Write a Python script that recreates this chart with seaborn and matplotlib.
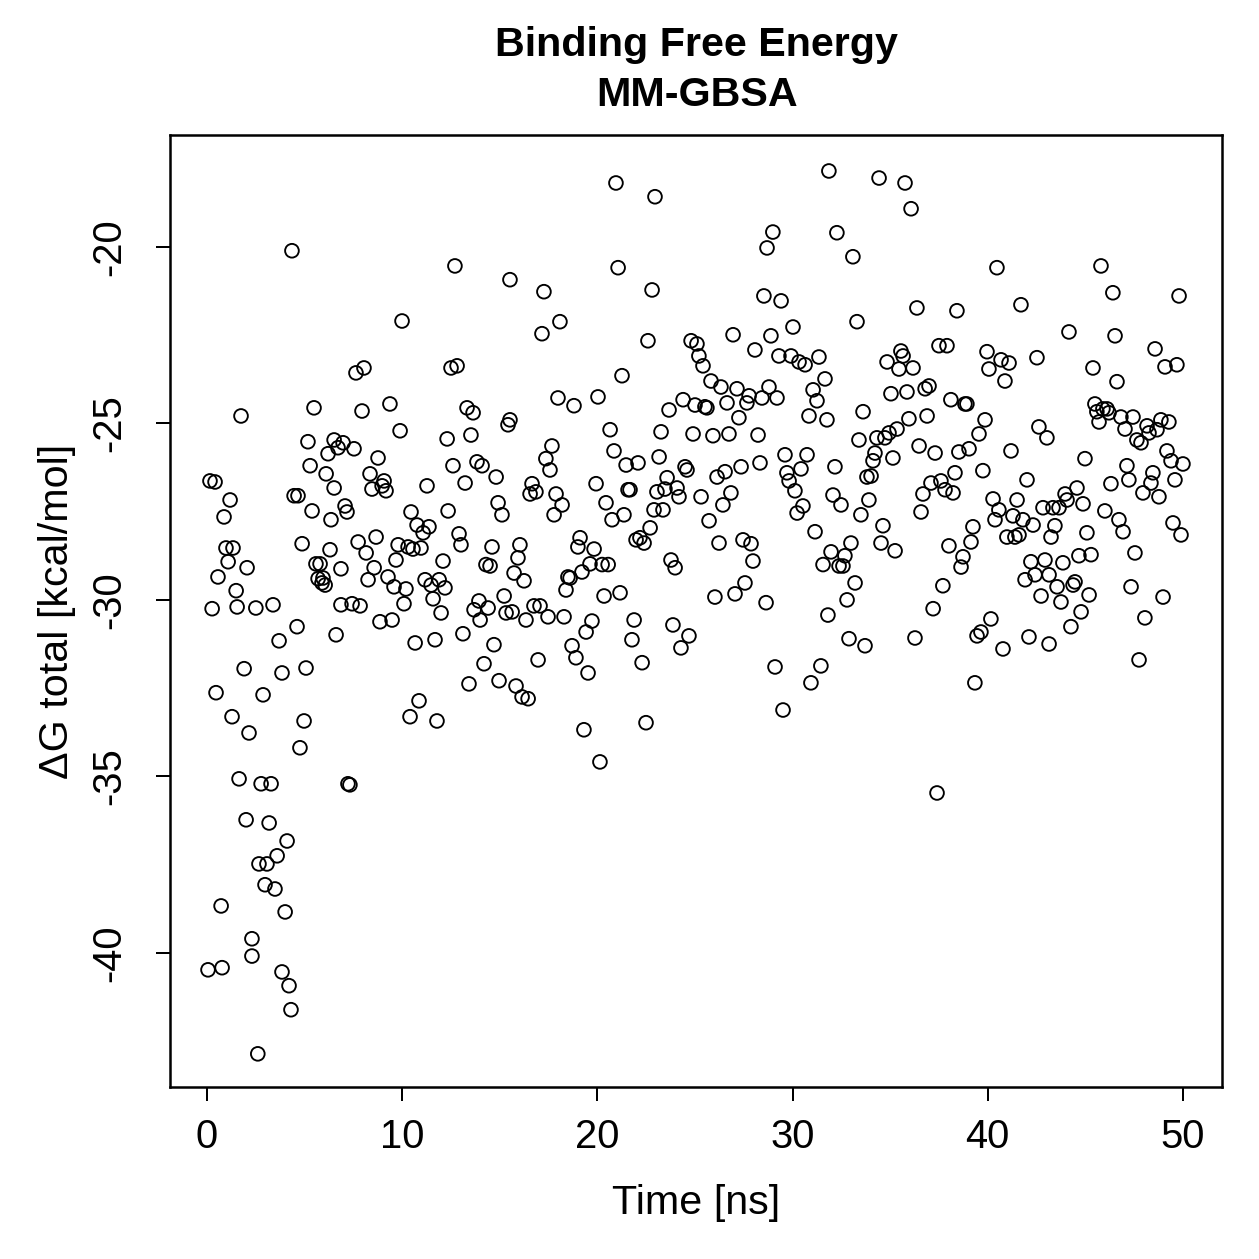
import numpy as np
import pandas as pd
import matplotlib
matplotlib.use("Agg")
import matplotlib.pyplot as plt
import seaborn as sns

# === data: MM-GBSA binding free energy per frame ===
time_ns = [
    0.05, 0.15, 0.26, 0.41, 0.46, 0.56, 0.72, 0.77, 0.87, 0.97, 1.08, 1.18, 1.28, 1.33, 1.49, 1.54,
    1.64, 1.74, 1.9, 2.0, 2.05, 2.15, 2.3, 2.3, 2.5, 2.6, 2.66, 2.77, 2.87, 2.97, 3.07, 3.18,
    3.28, 3.38, 3.48, 3.59, 3.69, 3.84, 3.84, 4.0, 4.1, 4.2, 4.3, 4.35, 4.46, 4.61, 4.66, 4.76,
    4.87, 4.97, 5.07, 5.17, 5.28, 5.38, 5.48, 5.58, 5.69, 5.79, 5.89, 5.94, 6.05, 6.1, 6.2, 6.3,
    6.35, 6.51, 6.51, 6.61, 6.71, 6.86, 6.86, 6.97, 7.07, 7.17, 7.22, 7.32, 7.43, 7.53, 7.63, 7.74,
    7.84, 7.94, 8.04, 8.15, 8.25, 8.35, 8.45, 8.56, 8.66, 8.76, 8.86, 8.97, 9.07, 9.17, 9.27, 9.37,
    9.48, 9.58, 9.68, 9.79, 9.89, 9.99, 10.09, 10.19, 10.3, 10.4, 10.45, 10.55, 10.66, 10.76, 10.86, 10.96,
    11.07, 11.17, 11.27, 11.37, 11.48, 11.58, 11.68, 11.78, 11.89, 11.99, 12.09, 12.19, 12.3, 12.35, 12.5, 12.6,
    12.7, 12.81, 12.91, 13.01, 13.11, 13.22, 13.32, 13.42, 13.52, 13.63, 13.68, 13.83, 13.93, 13.99, 14.09, 14.19,
    14.29, 14.4, 14.5, 14.6, 14.7, 14.81, 14.91, 14.96, 15.11, 15.22, 15.32, 15.42, 15.52, 15.52, 15.63, 15.73,
    15.83, 15.93, 16.03, 16.14, 16.24, 16.34, 16.45, 16.55, 16.65, 16.75, 16.85, 16.96, 17.06, 17.16, 17.26, 17.36,
    17.47, 17.57, 17.67, 17.78, 17.88, 17.98, 18.08, 18.19, 18.29, 18.39, 18.49, 18.6, 18.7, 18.8, 18.9, 19.0,
    19.11, 19.21, 19.31, 19.42, 19.52, 19.62, 19.72, 19.83, 19.93, 20.03, 20.13, 20.24, 20.34, 20.44, 20.55, 20.65,
    20.75, 20.85, 20.95, 21.06, 21.16, 21.26, 21.36, 21.47, 21.57, 21.67, 21.77, 21.88, 21.98, 22.08, 22.18, 22.29,
    22.39, 22.49, 22.59, 22.7, 22.8, 22.9, 22.95, 23.05, 23.16, 23.26, 23.36, 23.46, 23.57, 23.67, 23.77, 23.87,
    23.98, 24.08, 24.18, 24.28, 24.39, 24.49, 24.59, 24.69, 24.8, 24.9, 25.0, 25.1, 25.2, 25.31, 25.41, 25.51,
    25.61, 25.72, 25.82, 25.92, 26.02, 26.13, 26.23, 26.33, 26.43, 26.54, 26.64, 26.74, 26.84, 26.95, 27.05, 27.15,
    27.25, 27.36, 27.46, 27.56, 27.66, 27.77, 27.87, 27.97, 28.07, 28.23, 28.33, 28.43, 28.53, 28.64, 28.69, 28.79,
    28.89, 28.99, 29.1, 29.2, 29.3, 29.41, 29.51, 29.61, 29.71, 29.82, 29.92, 30.02, 30.12, 30.23, 30.33, 30.43,
    30.53, 30.64, 30.74, 30.84, 30.94, 31.05, 31.15, 31.25, 31.35, 31.45, 31.56, 31.66, 31.76, 31.81, 31.86, 31.97,
    32.07, 32.17, 32.27, 32.38, 32.48, 32.58, 32.68, 32.79, 32.89, 32.99, 33.09, 33.2, 33.3, 33.4, 33.5, 33.61,
    33.71, 33.81, 33.91, 34.02, 34.12, 34.22, 34.32, 34.43, 34.53, 34.63, 34.73, 34.84, 34.94, 35.04, 35.14, 35.25,
    35.35, 35.45, 35.55, 35.66, 35.76, 35.86, 35.96, 36.07, 36.17, 36.27, 36.37, 36.48, 36.58, 36.68, 36.79, 36.89,
    36.99, 37.09, 37.2, 37.3, 37.4, 37.5, 37.6, 37.7, 37.81, 37.91, 38.01, 38.11, 38.22, 38.32, 38.42, 38.52,
    38.63, 38.73, 38.83, 38.93, 39.04, 39.14, 39.24, 39.34, 39.45, 39.55, 39.65, 39.75, 39.86, 39.96, 40.06, 40.16,
    40.27, 40.37, 40.47, 40.57, 40.68, 40.78, 40.88, 40.98, 41.09, 41.19, 41.29, 41.39, 41.5, 41.6, 41.7, 41.8,
    41.91, 42.01, 42.11, 42.21, 42.32, 42.42, 42.52, 42.62, 42.73, 42.83, 42.93, 43.03, 43.14, 43.14, 43.24, 43.34,
    43.44, 43.55, 43.65, 43.75, 43.85, 43.96, 44.06, 44.16, 44.26, 44.37, 44.47, 44.57, 44.67, 44.78, 44.88, 44.98,
    45.08, 45.19, 45.29, 45.39, 45.49, 45.59, 45.7, 45.8, 45.9, 46.0, 46.11, 46.21, 46.31, 46.41, 46.52, 46.62,
    46.72, 46.82, 46.93, 47.03, 47.13, 47.23, 47.34, 47.44, 47.54, 47.64, 47.75, 47.85, 47.95, 48.05, 48.16, 48.26,
    48.36, 48.46, 48.57, 48.67, 48.77, 48.87, 48.98, 49.08, 49.18, 49.28, 49.39, 49.49, 49.59, 49.69, 49.8, 49.9,
    50.0,
]

delta_g = [
    -40.48, -26.63, -30.25, -26.66, -32.63, -29.35, -38.67, -40.42, -27.65, -28.53, -28.92, -27.17, -33.31, -28.53, -29.74, -30.2,
    -35.07, -24.79, -31.95, -36.23, -29.09, -33.77, -39.6, -40.09, -30.23, -42.86, -37.48, -35.21, -32.69, -38.07, -37.48, -36.32,
    -35.21, -30.14, -38.19, -37.25, -31.16, -32.07, -40.54, -38.84, -36.83, -40.93, -41.61, -20.11, -27.05, -30.76, -27.05, -34.19,
    -28.41, -33.43, -31.93, -25.52, -26.2, -27.48, -24.56, -28.98, -29.4, -28.98, -29.52, -29.38, -29.58, -26.43, -25.86, -28.58,
    -27.73, -25.47, -26.83, -30.99, -25.69, -29.12, -30.14, -25.55, -27.34, -27.51, -35.21, -35.24, -30.11, -25.72, -23.57, -28.36,
    -30.17, -24.65, -23.43, -28.67, -29.43, -26.43, -26.86, -29.09, -28.22, -25.98, -30.62, -26.77, -26.63, -26.91, -29.35, -24.45,
    -30.57, -29.63, -28.87, -28.44, -25.21, -22.1, -30.11, -29.69, -28.5, -33.31, -27.51, -28.56, -31.22, -27.88, -32.86, -28.53,
    -28.1, -29.43, -26.77, -27.93, -29.58, -29.97, -31.13, -33.43, -29.43, -30.37, -28.9, -29.66, -25.44, -27.48, -23.43, -26.2,
    -20.54, -23.37, -28.13, -28.44, -30.96, -26.69, -24.56, -32.38, -25.33, -24.7, -30.28, -26.09, -30.03, -30.57, -26.2, -31.81,
    -29.0, -30.23, -29.04, -28.5, -31.27, -26.52, -27.25, -32.29, -27.59, -29.89, -30.37, -25.04, -20.93, -24.9, -30.34, -29.24,
    -32.44, -28.81, -28.44, -32.75, -29.46, -30.57, -32.8, -27.0, -26.71, -30.17, -26.94, -31.7, -30.17, -22.46, -21.27, -26.0,
    -30.48, -26.32, -25.64, -27.59, -27.0, -24.28, -22.12, -27.31, -30.48, -29.72, -29.35, -29.38, -31.3, -24.5, -31.64, -28.5,
    -28.24, -29.21, -33.68, -30.91, -32.07, -28.98, -30.6, -28.56, -26.71, -24.25, -34.59, -29.0, -29.89, -27.25, -29.0, -25.18,
    -27.73, -25.78, -18.19, -20.59, -29.8, -23.65, -27.59, -26.18, -26.88, -26.88, -31.13, -30.57, -28.3, -26.12, -28.24, -31.78,
    -28.39, -33.48, -22.66, -27.96, -21.22, -27.45, -18.58, -26.94, -25.95, -25.24, -27.45, -26.86, -26.54, -24.62, -28.87, -30.71,
    -29.09, -26.83, -27.08, -31.36, -24.33, -26.23, -26.32, -31.02, -22.66, -25.3, -24.48, -22.75, -23.09, -27.08, -23.37, -24.53,
    -24.56, -27.76, -23.8, -25.35, -29.92, -26.52, -28.39, -23.97, -27.31, -26.37, -24.42, -25.3, -26.97, -22.49, -29.83, -24.02,
    -24.84, -26.23, -28.3, -29.52, -24.42, -24.22, -28.41, -28.9, -22.92, -25.33, -26.12, -24.28, -21.39, -30.08, -20.03, -23.97,
    -22.52, -19.58, -31.9, -24.28, -23.09, -21.53, -33.12, -25.89, -26.4, -26.63, -23.09, -22.27, -26.91, -27.54, -23.26, -26.29,
    -27.34, -23.34, -25.89, -24.79, -32.35, -24.05, -28.07, -24.36, -23.12, -31.87, -29.0, -23.74, -24.9, -30.43, -17.85, -28.64,
    -27.03, -26.23, -19.6, -29.04, -27.31, -29.04, -28.75, -30.0, -31.1, -28.39, -20.28, -29.52, -22.12, -25.47, -27.59, -24.67,
    -31.3, -26.52, -27.17, -26.49, -26.06, -25.84, -25.41, -18.05, -28.39, -27.9, -25.41, -23.26, -25.27, -24.16, -25.98, -28.61,
    -25.16, -23.46, -22.95, -23.09, -18.19, -24.11, -24.87, -18.92, -23.43, -31.08, -21.73, -25.64, -27.51, -27.0, -24.02, -24.79,
    -23.94, -26.69, -30.25, -25.84, -35.47, -22.8, -26.63, -29.6, -26.88, -22.8, -28.47, -24.33, -26.97, -26.4, -21.81, -25.81,
    -29.07, -28.78, -24.45, -24.45, -25.72, -28.36, -27.93, -32.35, -31.02, -25.3, -30.91, -26.34, -24.9, -22.97, -23.46, -30.54,
    -27.14, -27.73, -20.59, -27.45, -23.2, -31.39, -23.8, -28.22, -23.29, -25.78, -27.62, -28.22, -27.17, -28.16, -21.64, -27.73,
    -29.43, -26.6, -31.05, -28.92, -27.88, -29.29, -23.14, -25.1, -29.89, -27.39, -28.87, -25.41, -31.25, -29.29, -28.22, -27.39,
    -27.9, -29.63, -27.39, -30.06, -28.95, -27.0, -27.17, -22.41, -30.76, -29.58, -29.49, -26.83, -28.75, -30.34, -27.28, -26.0,
    -28.1, -29.86, -28.72, -23.43, -24.45, -24.67, -24.96, -20.54, -24.59, -27.48, -24.59, -24.7, -26.71, -21.3, -22.52, -23.82,
    -27.73, -24.82, -28.07, -25.16, -26.2, -26.6, -29.63, -24.82, -28.67, -25.47, -31.7, -25.55, -26.97, -30.51, -25.07, -25.27,
    -26.69, -26.4, -22.89, -25.18, -27.08, -24.9, -29.92, -23.4, -25.78, -24.96, -26.06, -27.82, -26.6, -23.34, -21.39, -28.16,
    -26.15,
]

x_ticks = [0, 10, 20, 30, 40, 50]
y_ticks = [-40, -35, -30, -25, -20]

df = pd.DataFrame({"time": time_ns, "dg": delta_g})

# === stile tipo R base graphics ===
sns.set_style("ticks")
plt.rcParams["font.family"] = ["Liberation Sans", "DejaVu Sans"]
plt.rcParams["text.color"] = "black"
plt.rcParams["axes.labelcolor"] = "black"

fig = plt.figure(figsize=(1259 / 180, 1259 / 180), dpi=180)
ax = fig.add_axes([0.135, 0.1366, 0.8356, 0.7562])

sns.scatterplot(data=df, x="time", y="dg", ax=ax, marker="o", s=30,
                facecolors="none", edgecolor="black", linewidth=0.75)

ax.set_xlim(-1.9, 52.0)
ax.set_ylim(-43.8, -16.83)
ax.set_xticks(x_ticks)
ax.set_yticks(y_ticks)
ax.set_yticklabels([str(v) for v in y_ticks], rotation=90, va="center")
ax.tick_params(axis="both", direction="out", length=5.5, width=0.8,
               labelsize=16, colors="black")
ax.tick_params(axis="x", pad=7)
ax.tick_params(axis="y", pad=11)

for sp in ax.spines.values():
    sp.set_visible(True)
    sp.set_linewidth(1.0)
    sp.set_color("black")

ax.set_xlabel("Time [ns]", fontsize=16.5)
ax.set_ylabel("ΔG total [kcal/mol]", fontsize=16.5)
ax.xaxis.set_label_coords(0.5, -0.1218)
ax.yaxis.set_label_coords(-0.1074, 0.5)
ax.xaxis.label.set_va("center")
ax.yaxis.label.set_va("center")

fig.text(0.5536, 0.9643, "Binding Free Energy", ha="center", va="center",
         fontsize=16.5, fontweight="bold")
fig.text(0.5536, 0.9245, "MM-GBSA", ha="center", va="center",
         fontsize=16.5, fontweight="bold")

fig.savefig("out.png", dpi=180)
